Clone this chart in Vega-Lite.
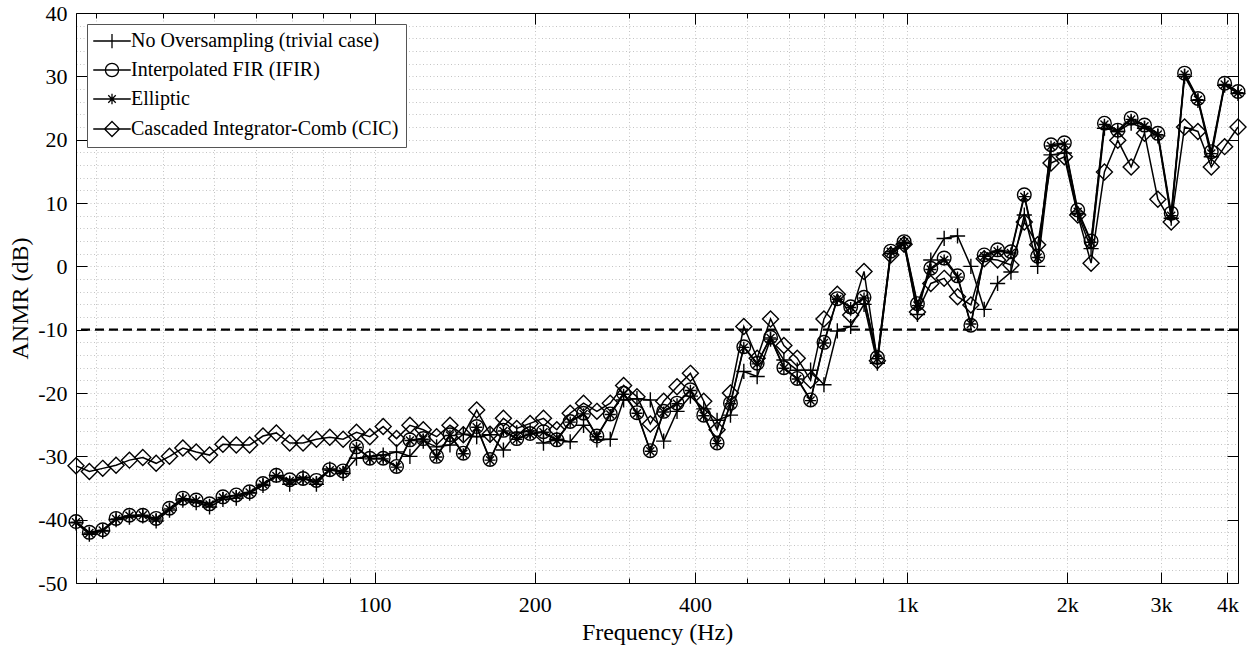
{
  "$schema": "https://vega.github.io/schema/vega-lite/v6.json",
  "width": 1162,
  "height": 570,
  "autosize": {"type": "none"},
  "padding": {"left": 76, "top": 13, "right": 11, "bottom": 69},
  "background": "white",
  "config": {
    "font": "Times New Roman, Liberation Serif, Tinos, DejaVu Serif, serif",
    "view": {"stroke": null},
    "axis": {
      "labelFont": "Times New Roman, Liberation Serif, Tinos, DejaVu Serif, serif",
      "titleFont": "Times New Roman, Liberation Serif, Tinos, DejaVu Serif, serif",
      "labelColor": "#000",
      "titleColor": "#000",
      "tickColor": "#000",
      "domainColor": "#000",
      "tickWidth": 1,
      "domainWidth": 1,
      "labelFontSize": 22,
      "titleFontSize": 24,
      "titleFontWeight": "normal",
      "gridColor": "#c4c4c4",
      "gridDash": [1, 2.5],
      "gridWidth": 1,
      "labelFlush": false,
      "labelOverlap": false
    }
  },
  "data": {
    "values": [
      {"f": 27.5, "a": -40.5, "b": -40.3, "c": -40.4, "d": -31.5},
      {"f": 29.135, "a": -42.3, "b": -42.0, "c": -42.1, "d": -32.4},
      {"f": 30.868, "a": -41.8, "b": -41.6, "c": -41.7, "d": -31.9},
      {"f": 32.703, "a": -40.0, "b": -39.8, "c": -39.9, "d": -31.4},
      {"f": 34.648, "a": -39.6, "b": -39.3, "c": -39.4, "d": -30.6},
      {"f": 36.708, "a": -39.4, "b": -39.3, "c": -39.3, "d": -30.2},
      {"f": 38.891, "a": -40.2, "b": -39.8, "c": -39.9, "d": -31.1},
      {"f": 41.203, "a": -38.5, "b": -38.2, "c": -38.3, "d": -30.0},
      {"f": 43.654, "a": -36.9, "b": -36.6, "c": -36.7, "d": -28.7},
      {"f": 46.249, "a": -37.3, "b": -36.9, "c": -37.0, "d": -29.3},
      {"f": 48.999, "a": -38.0, "b": -37.5, "c": -37.6, "d": -29.8},
      {"f": 51.913, "a": -36.8, "b": -36.4, "c": -36.5, "d": -28.1},
      {"f": 55.0, "a": -36.6, "b": -36.1, "c": -36.2, "d": -28.2},
      {"f": 58.27, "a": -35.8, "b": -35.6, "c": -35.7, "d": -28.2},
      {"f": 61.735, "a": -34.6, "b": -34.3, "c": -34.4, "d": -26.8},
      {"f": 65.406, "a": -33.0, "b": -33.0, "c": -33.1, "d": -26.3},
      {"f": 69.296, "a": -34.4, "b": -33.7, "c": -33.9, "d": -27.9},
      {"f": 73.416, "a": -33.3, "b": -33.5, "c": -33.6, "d": -27.9},
      {"f": 77.782, "a": -34.4, "b": -33.8, "c": -34.0, "d": -27.3},
      {"f": 82.407, "a": -32.0, "b": -32.1, "c": -32.2, "d": -27.0},
      {"f": 87.307, "a": -32.7, "b": -32.3, "c": -32.4, "d": -27.3},
      {"f": 92.499, "a": -30.3, "b": -28.5, "c": -28.6, "d": -26.2},
      {"f": 97.999, "a": -30.0, "b": -30.3, "c": -30.4, "d": -26.9},
      {"f": 103.826, "a": -29.8, "b": -30.3, "c": -30.4, "d": -25.3},
      {"f": 110.0, "a": -29.3, "b": -31.6, "c": -31.7, "d": -27.2},
      {"f": 116.541, "a": -30.0, "b": -27.4, "c": -27.5, "d": -25.1},
      {"f": 123.471, "a": -27.6, "b": -27.2, "c": -27.3, "d": -25.8},
      {"f": 130.813, "a": -28.5, "b": -30.0, "c": -30.1, "d": -26.9},
      {"f": 138.591, "a": -28.2, "b": -26.6, "c": -26.7, "d": -25.1},
      {"f": 146.832, "a": -26.5, "b": -29.5, "c": -29.6, "d": -26.6},
      {"f": 155.563, "a": -26.9, "b": -25.3, "c": -25.4, "d": -22.7},
      {"f": 164.814, "a": -26.6, "b": -30.5, "c": -30.6, "d": -26.5},
      {"f": 174.614, "a": -29.0, "b": -25.9, "c": -26.0, "d": -24.0},
      {"f": 184.997, "a": -26.3, "b": -27.2, "c": -27.3, "d": -25.6},
      {"f": 195.998, "a": -26.0, "b": -26.4, "c": -26.5, "d": -24.8},
      {"f": 207.652, "a": -27.9, "b": -26.1, "c": -26.2, "d": -24.0},
      {"f": 220.0, "a": -27.3, "b": -27.4, "c": -27.5, "d": -25.8},
      {"f": 233.082, "a": -27.7, "b": -24.5, "c": -24.6, "d": -23.2},
      {"f": 246.942, "a": -25.1, "b": -23.2, "c": -23.3, "d": -21.6},
      {"f": 261.626, "a": -27.4, "b": -26.8, "c": -26.9, "d": -22.9},
      {"f": 277.183, "a": -27.3, "b": -23.3, "c": -23.4, "d": -21.6},
      {"f": 293.665, "a": -21.1, "b": -20.05, "c": -20.2, "d": -18.8},
      {"f": 311.127, "a": -20.9, "b": -23.1, "c": -23.2, "d": -20.6},
      {"f": 329.628, "a": -21.1, "b": -29.1, "c": -29.2, "d": -24.9},
      {"f": 349.228, "a": -27.6, "b": -22.9, "c": -23.0, "d": -21.3},
      {"f": 369.994, "a": -22.9, "b": -21.6, "c": -21.7, "d": -19.0},
      {"f": 391.995, "a": -20.5, "b": -19.5, "c": -19.6, "d": -16.9},
      {"f": 415.305, "a": -22.5, "b": -23.5, "c": -23.6, "d": -21.3},
      {"f": 440.0, "a": -24.3, "b": -27.9, "c": -28.0, "d": -25.8},
      {"f": 466.164, "a": -23.5, "b": -21.6, "c": -21.7, "d": -20.0},
      {"f": 493.883, "a": -16.6, "b": -12.7, "c": -12.8, "d": -9.5},
      {"f": 523.251, "a": -17.4, "b": -15.3, "c": -15.4, "d": -14.5},
      {"f": 554.365, "a": -11.5, "b": -11.2, "c": -11.3, "d": -8.3},
      {"f": 587.33, "a": -14.8, "b": -16.0, "c": -16.1, "d": -12.5},
      {"f": 622.254, "a": -16.4, "b": -17.7, "c": -17.8, "d": -14.5},
      {"f": 659.255, "a": -16.4, "b": -21.1, "c": -21.2, "d": -18.0},
      {"f": 698.456, "a": -18.7, "b": -12.0, "c": -12.1, "d": -8.3},
      {"f": 739.989, "a": -10.2, "b": -5.1, "c": -5.2, "d": -4.4},
      {"f": 783.991, "a": -9.5, "b": -6.4, "c": -6.5, "d": -7.7},
      {"f": 830.609, "a": -6.0, "b": -4.9, "c": -5.0, "d": -0.8},
      {"f": 880.0, "a": -15.3, "b": -14.4, "c": -14.6, "d": -14.9},
      {"f": 932.328, "a": 2.0, "b": 2.4, "c": 2.3, "d": 1.8},
      {"f": 987.767, "a": 3.6, "b": 3.9, "c": 3.8, "d": 3.5},
      {"f": 1046.502, "a": -7.6, "b": -5.9, "c": -6.2, "d": -7.2},
      {"f": 1108.731, "a": 1.0, "b": -0.3, "c": -0.5, "d": -2.7},
      {"f": 1174.659, "a": 4.4, "b": 1.3, "c": 1.0, "d": -1.9},
      {"f": 1244.508, "a": 4.8, "b": -1.5, "c": -1.7, "d": -4.8},
      {"f": 1318.51, "a": 0.0, "b": -9.3, "c": -9.1, "d": -6.1},
      {"f": 1396.913, "a": -6.8, "b": 1.8, "c": 1.6, "d": 1.2},
      {"f": 1479.978, "a": -2.7, "b": 2.6, "c": 2.4, "d": 1.0},
      {"f": 1567.982, "a": -0.9, "b": 2.3, "c": 2.1, "d": 0.2},
      {"f": 1661.219, "a": 8.1, "b": 11.3, "c": 11.0, "d": 7.0},
      {"f": 1760.0, "a": 0.0, "b": 1.6, "c": 1.4, "d": 3.4},
      {"f": 1864.655, "a": 17.6, "b": 19.2, "c": 19.0, "d": 16.3},
      {"f": 1975.533, "a": 17.9, "b": 19.5, "c": 19.3, "d": 17.3},
      {"f": 2093.005, "a": 8.3, "b": 8.9, "c": 8.6, "d": 8.1},
      {"f": 2217.461, "a": 2.8, "b": 4.0, "c": 3.8, "d": 0.5},
      {"f": 2349.318, "a": 21.8, "b": 22.6, "c": 22.4, "d": 14.9},
      {"f": 2489.016, "a": 21.3, "b": 21.5, "c": 21.3, "d": 19.9},
      {"f": 2637.02, "a": 22.6, "b": 23.4, "c": 23.2, "d": 15.7},
      {"f": 2793.826, "a": 21.8, "b": 22.3, "c": 22.1, "d": 21.0},
      {"f": 2959.955, "a": 20.6, "b": 21.0, "c": 20.8, "d": 10.6},
      {"f": 3135.963, "a": 7.6, "b": 8.4, "c": 8.0, "d": 7.0},
      {"f": 3322.438, "a": 30.0, "b": 30.5, "c": 30.3, "d": 22.0},
      {"f": 3520.0, "a": 26.2, "b": 26.5, "c": 26.3, "d": 21.3},
      {"f": 3729.31, "a": 17.3, "b": 18.1, "c": 17.8, "d": 15.7},
      {"f": 3951.066, "a": 28.6, "b": 28.9, "c": 28.7, "d": 18.9},
      {"f": 4186.009, "a": 27.3, "b": 27.6, "c": 27.4, "d": 22.0}
    ]
  },
  "layer": [
    {
      "transform": [{"filter": "false"}],
      "mark": {"type": "point", "opacity": 0},
      "encoding": {
        "x": {"field": "f", "type": "quantitative",
          "scale": {"type": "log", "domain": [27.5, 4186.01], "nice": false},
          "axis": {"orient": "bottom", "values": [30, 40, 50, 60, 70, 80, 90, 100, 200, 300, 400, 500, 600, 700, 800, 900, 1000, 2000, 3000, 4000],
            "grid": true, "labels": false, "domain": false, "ticks": true, "tickSize": -5, "title": null}},
        "y": {"field": "v", "type": "quantitative",
          "scale": {"domain": [-50, 40], "nice": false, "zero": false},
          "axis": {"orient": "left", "values": [-50, -48, -46, -44, -42, -40, -38, -36, -34, -32, -30, -28, -26, -24, -22, -20, -18, -16, -14, -12, -10, -8, -6, -4, -2, 0, 2, 4, 6, 8, 10, 12, 14, 16, 18, 20, 22, 24, 26, 28, 30, 32, 34, 36, 38, 40],
            "grid": true, "labels": false, "domain": false, "ticks": false, "title": null}}
      }
    },
    {
      "transform": [{"filter": "false"}],
      "mark": {"type": "point", "opacity": 0},
      "encoding": {
        "x": {"field": "f", "type": "quantitative",
          "scale": {"type": "log", "domain": [27.5, 4186.01], "nice": false},
          "axis": {"orient": "bottom", "values": [100, 200, 400, 1000, 2000, 3000, 4000],
            "labelExpr": "datum.value == 100 ? '100' : datum.value == 200 ? '200' : datum.value == 400 ? '400' : datum.value == 1000 ? '1k' : datum.value == 2000 ? '2k' : datum.value == 3000 ? '3k' : '4k'",
            "grid": false, "domain": true, "tickSize": -11, "labelPadding": 22, "title": "Frequency (Hz)", "titlePadding": 5}},
        "y": {"field": "v", "type": "quantitative",
          "scale": {"domain": [-50, 40], "nice": false, "zero": false},
          "axis": {"orient": "left", "values": [-50, -40, -30, -20, -10, 0, 10, 20, 30, 40],
            "labelExpr": "toString(datum.value)",
            "grid": false, "domain": true, "tickSize": -11, "labelPadding": 20, "title": "ANMR (dB)", "titlePadding": 5}}
      }
    },
    {
      "transform": [{"filter": "false"}],
      "mark": {"type": "point", "opacity": 0},
      "encoding": {
        "x": {"field": "f", "type": "quantitative",
          "scale": {"type": "log", "domain": [27.5, 4186.01], "nice": false},
          "axis": {"orient": "top", "values": [100, 200, 400, 1000, 2000, 3000, 4000],
            "grid": false, "labels": false, "domain": true, "tickSize": -11, "title": null}},
        "y": {"field": "v", "type": "quantitative",
          "scale": {"domain": [-50, 40], "nice": false, "zero": false},
          "axis": {"orient": "right", "values": [-50, -40, -30, -20, -10, 0, 10, 20, 30, 40],
            "grid": false, "labels": false, "domain": true, "tickSize": -11, "title": null}}
      }
    },
    {
      "transform": [{"filter": "false"}],
      "mark": {"type": "point", "opacity": 0},
      "encoding": {
        "x": {"field": "f", "type": "quantitative",
          "scale": {"type": "log", "domain": [27.5, 4186.01], "nice": false},
          "axis": {"orient": "top", "values": [30, 40, 50, 60, 70, 80, 90, 300, 500, 600, 700, 800, 900],
            "grid": false, "labels": false, "domain": false, "tickSize": -5, "title": null}},
        "y": {"field": "v", "type": "quantitative",
          "scale": {"domain": [-50, 40], "nice": false, "zero": false},
          "axis": null}
      }
    },
    {
      "data": {"values": [{"threshold": -10}]},
      "mark": {"type": "rule", "color": "#000", "strokeWidth": 2.2, "strokeDash": [9, 5]},
      "encoding": {
        "y": {"field": "threshold", "type": "quantitative",
          "scale": {"domain": [-50, 40], "nice": false, "zero": false},
          "axis": null}
      }
    },
    {
      "transform": [{"fold": ["a", "b", "c", "d"], "as": ["s", "v"]}],
      "mark": {"type": "line", "color": "#000", "strokeWidth": 1.5},
      "encoding": {
        "x": {"field": "f", "type": "quantitative",
          "scale": {"type": "log", "domain": [27.5, 4186.01], "nice": false}, "axis": null},
        "y": {"field": "v", "type": "quantitative",
          "scale": {"domain": [-50, 40], "nice": false, "zero": false}, "axis": null},
        "detail": {"field": "s", "type": "nominal"}
      }
    },
    {
      "transform": [{"fold": ["a", "b", "c", "d"], "as": ["s", "v"]}],
      "mark": {"type": "point", "filled": false, "color": "#000", "strokeWidth": 1.4, "size": 256, "opacity": 1},
      "encoding": {
        "x": {"field": "f", "type": "quantitative",
          "scale": {"type": "log", "domain": [27.5, 4186.01], "nice": false}, "axis": null},
        "y": {"field": "v", "type": "quantitative",
          "scale": {"domain": [-50, 40], "nice": false, "zero": false}, "axis": null},
        "shape": {"field": "s", "type": "nominal",
          "scale": {"domain": ["a", "b", "c", "d"],
            "range": [
              "M-0.95,0H0.95M0,-0.95V0.95",
              "M0.85,0A0.85,0.85,0,1,1,-0.85,0A0.85,0.85,0,1,1,0.85,0Z",
              "M-0.7,0H0.7M0,-0.7V0.7M-0.5,-0.5L0.5,0.5M-0.5,0.5L0.5,-0.5",
              "M0,-1L1,0L0,1L-1,0Z"
            ]},
          "legend": null}
      }
    },
    {
      "transform": [{"filter": "false"}],
      "mark": {"type": "point", "filled": false, "color": "#000", "strokeWidth": 1.3, "size": 225, "opacity": 1},
      "encoding": {
        "shape": {"field": "s", "type": "nominal",
          "scale": {"domain": ["a", "b", "c", "d"],
            "range": [
              "M-2.5,0H2.5M0,-0.95V0.95",
              "M-2.5,0H2.5M0.88,0A0.88,0.88,0,1,1,-0.88,0A0.88,0.88,0,1,1,0.88,0",
              "M-2.5,0H2.5M0,-0.7V0.7M-0.5,-0.5L0.5,0.5M-0.5,0.5L0.5,-0.5",
              "M-2.5,0H2.5M0,-1L1,0L0,1L-1,0Z"
            ]},
          "legend": {
            "title": null,
            "orient": "top-left",
            "offset": 11,
            "padding": 7,
            "fillColor": "white",
            "strokeColor": "#555",
            "symbolSize": 225,
            "symbolStrokeWidth": 1.3,
            "symbolStrokeColor": "#000",
            "symbolFillColor": "transparent",
            "symbolOffset": 8,
            "labelOffset": 9,
            "labelFont": "Times New Roman, Liberation Serif, Tinos, DejaVu Serif, serif",
            "labelFontSize": 20,
            "labelColor": "#000",
            "labelLimit": 400,
            "rowPadding": 9,
            "labelExpr": "datum.value == 'a' ? 'No Oversampling (trivial case)' : datum.value == 'b' ? 'Interpolated FIR (IFIR)' : datum.value == 'c' ? 'Elliptic' : 'Cascaded Integrator-Comb (CIC)'"
          }
        }
      }
    }
  ],
  "resolve": {
    "scale": {"shape": "independent"},
    "axis": {"x": "independent", "y": "independent"}
  }
}
